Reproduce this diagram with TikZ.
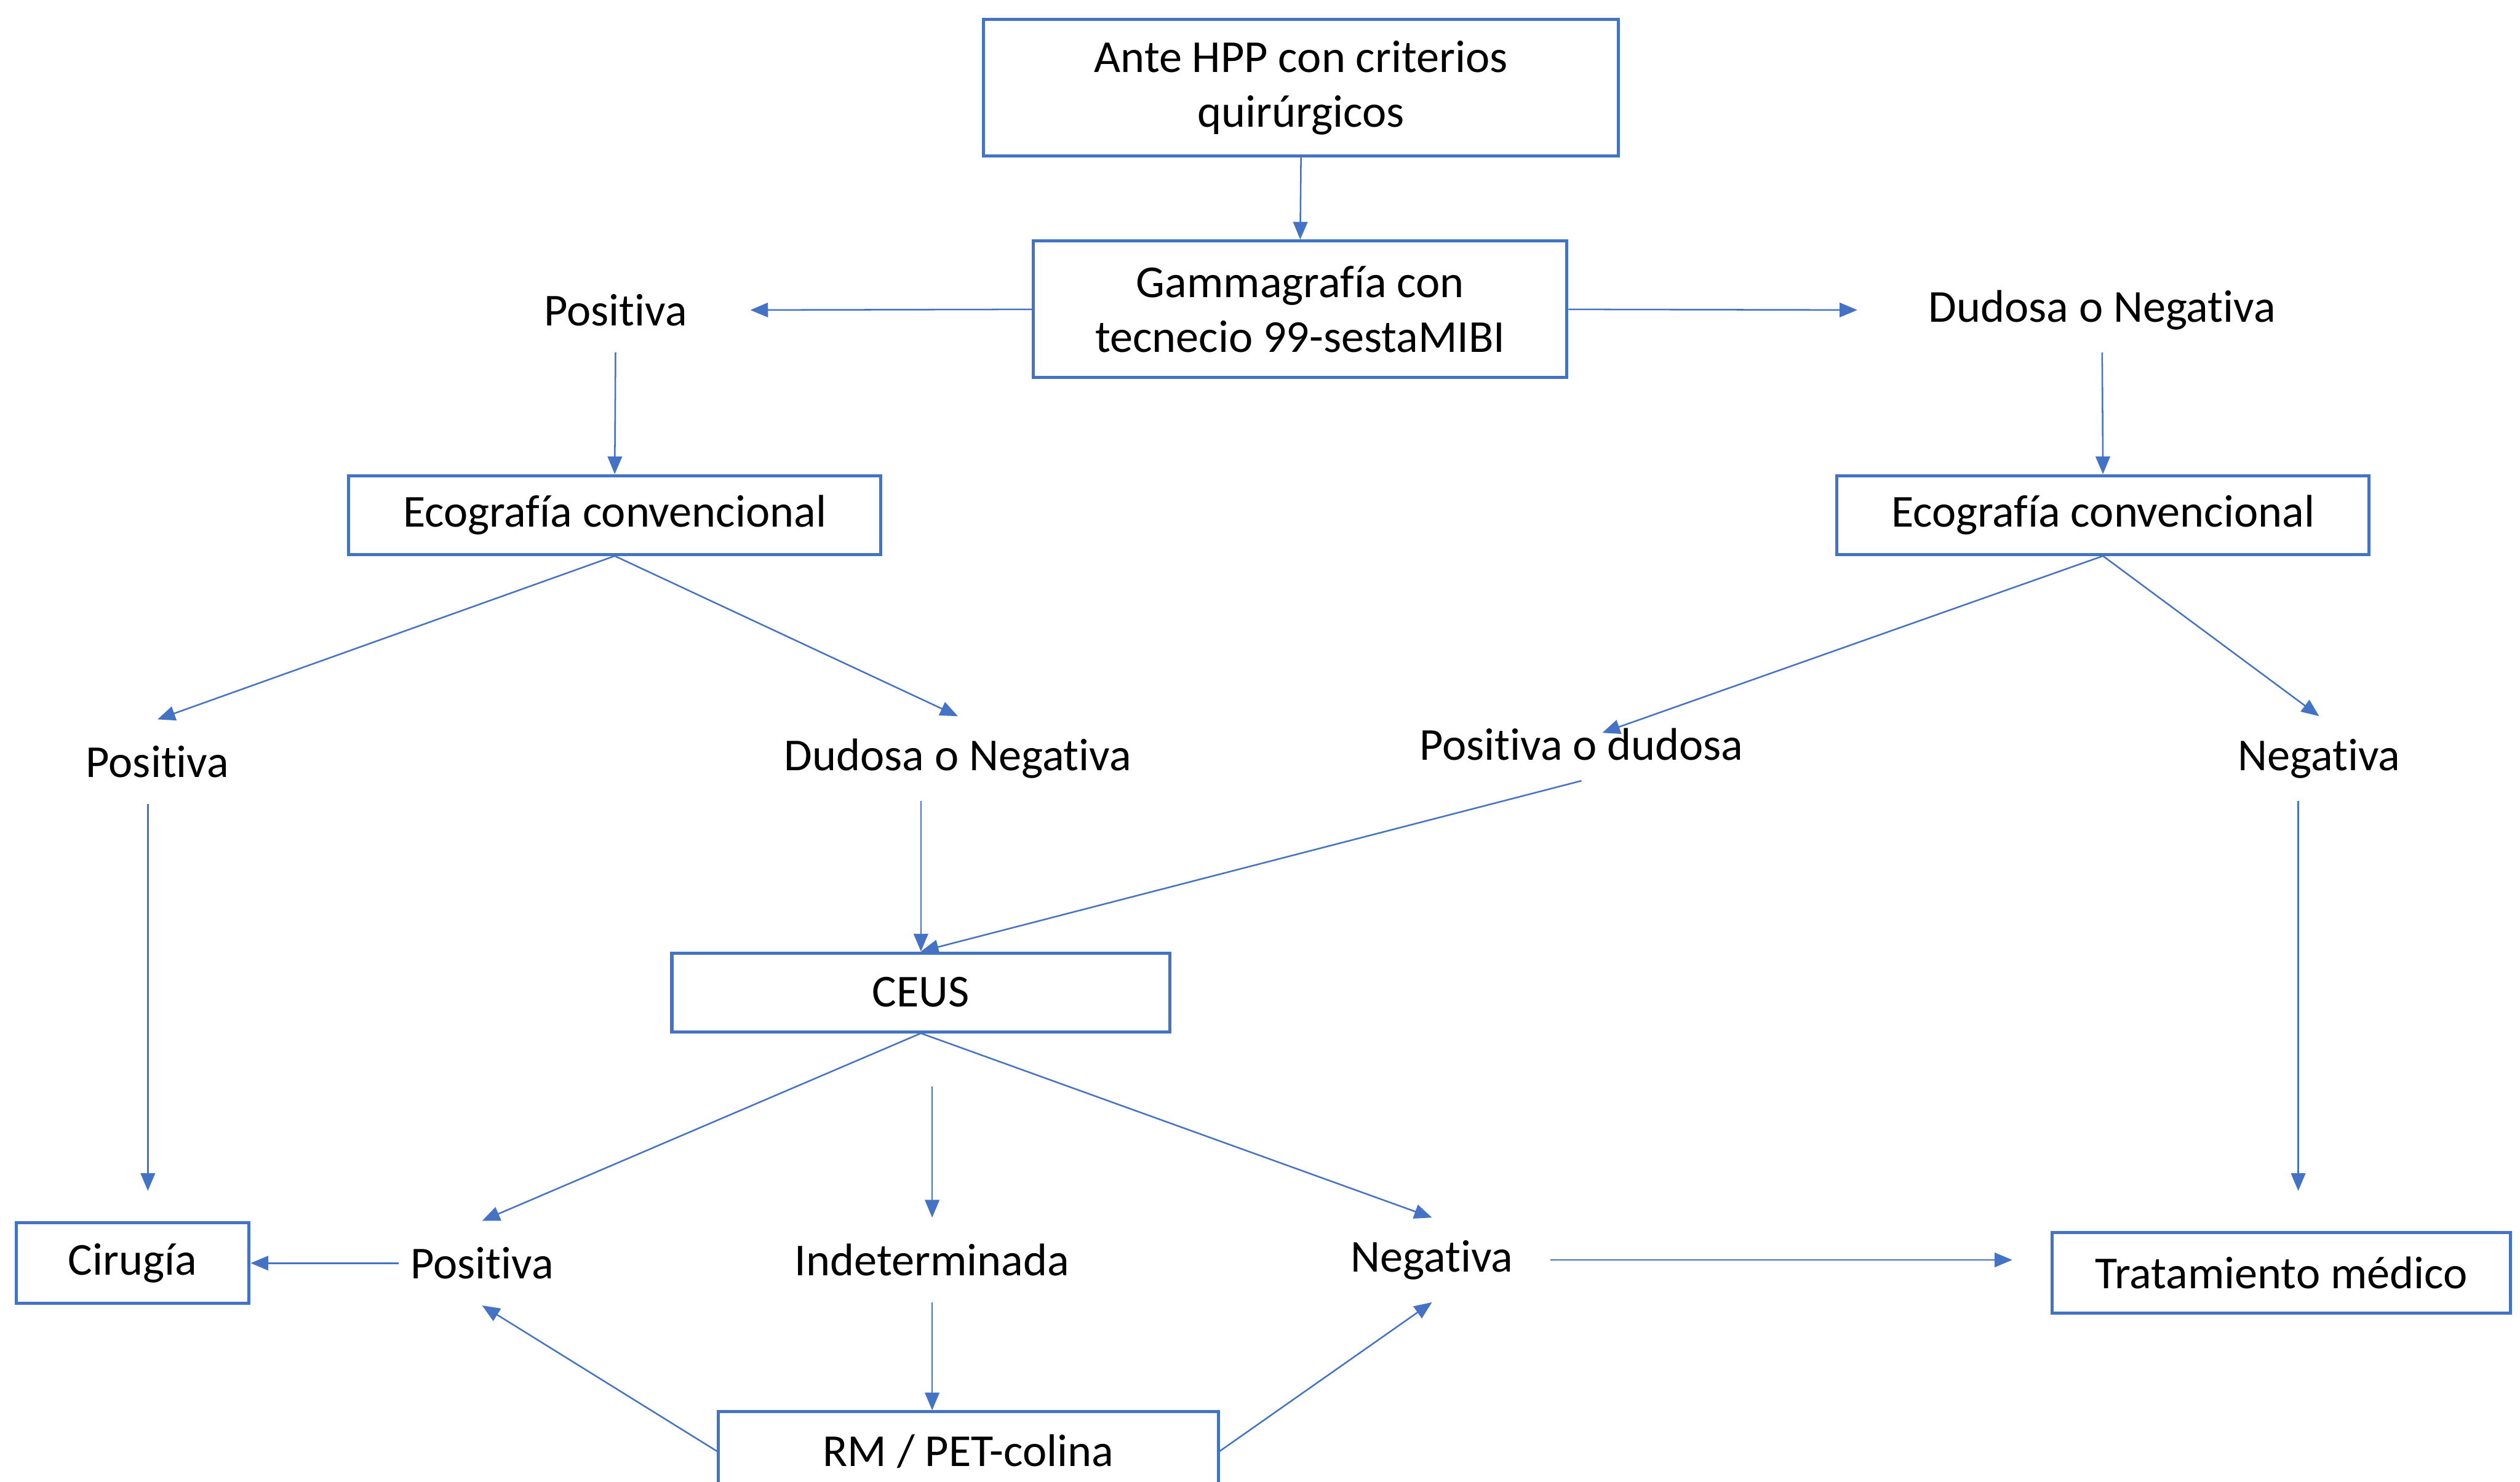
\documentclass[tikz,border=0pt]{standalone}
\usepackage{fontspec}
\setmainfont{Carlito}[Ligatures=NoCommon]
\usetikzlibrary{arrows.meta,calc}
\definecolor{ofblue}{HTML}{4472C4}
\tikzset{box/.style={draw=ofblue,line width=1.1pt,align=center,inner sep=2pt},lbl/.style={minimum height=1.04cm,inner sep=4pt},arr/.style={-{Triangle[length=0.22cm,width=0.18cm]},line width=0.55pt,draw=ofblue}}
\begin{document}
\begin{tikzpicture}[x=0.02cm,y=-0.02cm,font=\fontsize{16.2}{19.4}\selectfont]
\useasboundingbox (0,0) rectangle (1568,922);
\node[box,minimum width=7.9cm,minimum height=1.7cm] (top) at (809.5,54.5) {Ante HPP con criterios\\quirúrgicos};
\node[box,minimum width=6.64cm,minimum height=1.7cm] (gam) at (809,192.5) {Gammagrafía con\\tecnecio 99-sestaMIBI};
\node[box,minimum width=6.62cm,minimum height=0.98cm] (ecoL) at (382.5,320.5) {Ecografía convencional};
\node[box,minimum width=6.62cm,minimum height=0.98cm] (ecoR) at (1308.5,320.5) {Ecografía convencional};
\node[box,minimum width=6.2cm,minimum height=0.98cm] (ceus) at (573,617.5) {CEUS};
\node[box,minimum width=2.9cm,minimum height=1cm] (cir) at (82.5,786) {Cirugía};
\node[box,minimum width=5.7cm,minimum height=1cm] (tto) at (1419.5,792) {Tratamiento médico};
\node[box,minimum width=6.22cm,minimum height=0.98cm] (rm) at (602.5,903) {RM / PET-colina};
\node[lbl] (posT) at (383,193) {Positiva};
\node[lbl] (dudT) at (1308,193) {Dudosa o Negativa};
\node[lbl] (posL) at (98,474) {Positiva};
\node[lbl] (dudL) at (596,472) {Dudosa o Negativa};
\node[lbl,minimum height=0.9cm] (pdud) at (984,463) {Positiva o dudosa};
\node[lbl] (negR) at (1443,472) {Negativa};
\node[lbl] (posB) at (300,786) {Positiva};
\node[lbl] (ind) at (580,784) {Indeterminada};
\node[lbl] (negB) at (891,784) {Negativa};
\draw[arr] (top.south) -- (gam.north);
\draw[arr,shorten >=0.64cm] (gam.west) -- (posT.east);
\draw[arr,shorten >=0.74cm] (gam.east) -- (dudT.west);
\draw[arr] (posT.south) -- (ecoL.north);
\draw[arr] (dudT.south) -- (ecoR.north);
\draw[arr] (ecoL.south) -- (posL.north);
\draw[arr] (ecoL.south) -- (dudL.north);
\draw[arr] (ecoR.south) -- ($(pdud.center)+(13,-7)$);
\draw[arr] (ecoR.south) -- (negR.north);
\draw[arr,shorten >=0.38cm] ([xshift=-0.12cm]posL.south) -- ([xshift=-0.12cm]posL.south |- cir.north);
\draw[arr,shorten >=0.5cm] ([xshift=-0.26cm]negR.south) -- ([xshift=-0.26cm]negR.south |- tto.north);
\draw[arr] (dudL.south -| ceus.north) -- (ceus.north);
\draw[arr] (pdud.south) -- (ceus.north);
\draw[arr] (ceus.south) -- (posB.north);
\draw[arr,shorten <=0.66cm] (ceus.south -| ind.north) -- (ind.north);
\draw[arr] (ceus.south) -- (negB.north);
\draw[arr] (posB.west) -- (cir.east);
\draw[arr,shorten <=0.32cm,shorten >=0.48cm] (negB.east) -- (negB.east -| tto.west);
\draw[arr] (ind.south) -- (ind.south |- rm.north);
\draw[arr] (rm.west) -- (posB.south);
\draw[arr] (rm.east) -- (negB.south);
\end{tikzpicture}
\end{document}
